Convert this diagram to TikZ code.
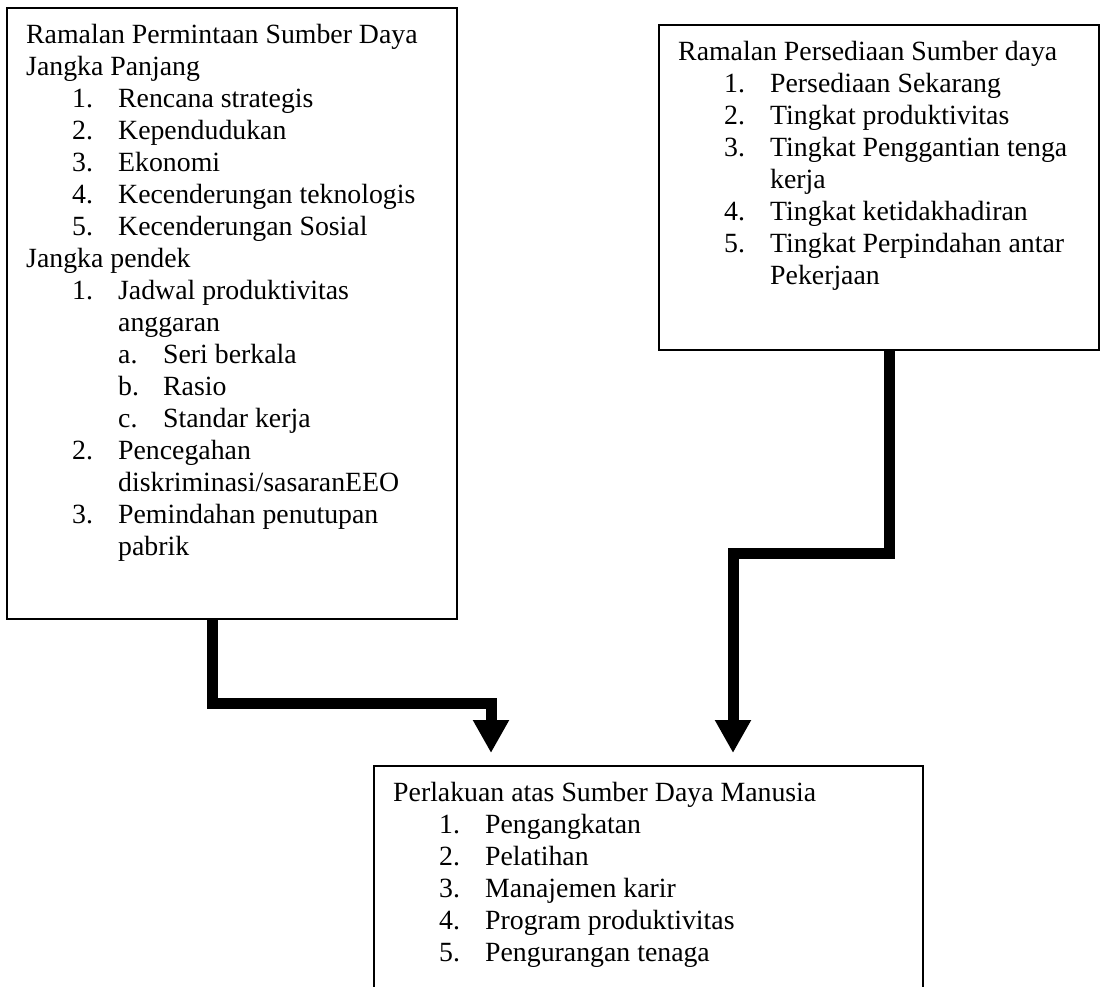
\documentclass[tikz,border=0pt]{standalone}
\usepackage{fontspec}
\setmainfont{Liberation Serif}
\usetikzlibrary{arrows.meta}
\usetikzlibrary{positioning}
\tikzstyle{box} = [rectangle, draw, line width=1.5pt, anchor=north west, inner sep=0pt]
\tikzstyle{txt} = [anchor=north west, inner sep=0pt, align=left, font=\fontsize{27.8}{32}\selectfont]
\tikzstyle{flow} = [line width=11pt, -{Triangle[width=34pt,length=33pt]}]
\newcommand{\lvone}[2]{\hspace*{46pt}\makebox[46pt][l]{#1}#2}
\newcommand{\lvtwo}[2]{\hspace*{92pt}\makebox[45pt][l]{#1}#2}
\newcommand{\lvwrap}[1]{\hspace*{92pt}#1}

\begin{document}
\begin{tikzpicture}[x=1pt, y=-1pt]
	\useasboundingbox (0,0) rectangle (1100,986);
	\clip (0,0) rectangle (1100,986);

	% the three boxes
	\node[box, minimum width=450pt, minimum height=611pt] (Demand) at (6,7) {};
	\node[box, minimum width=440pt, minimum height=325pt] (Supply) at (658,24) {};
	\node[box, minimum width=549pt, minimum height=260pt] (Action) at (373,765) {};

	\node[txt] (Demand-text) at ([xshift=20pt, yshift=-13.6pt]Demand.north west) {\strut Ramalan Permintaan Sumber Daya\\
		Jangka Panjang\\
		\lvone{1.}{Rencana strategis}\\
		\lvone{2.}{Kependudukan}\\
		\lvone{3.}{Ekonomi}\\
		\lvone{4.}{Kecenderungan teknologis}\\
		\lvone{5.}{Kecenderungan Sosial}\\
		Jangka pendek\\
		\lvone{1.}{Jadwal produktivitas}\\
		\lvwrap{anggaran}\\
		\lvtwo{a.}{Seri berkala}\\
		\lvtwo{b.}{Rasio}\\
		\lvtwo{c.}{Standar kerja}\\
		\lvone{2.}{Pencegahan}\\
		\lvwrap{diskriminasi/sasaranEEO}\\
		\lvone{3.}{Pemindahan penutupan}\\
		\lvwrap{pabrik}};

	\node[txt] (Supply-text) at ([xshift=20pt, yshift=-13.6pt]Supply.north west) {\strut Ramalan Persediaan Sumber daya\\
		\lvone{1.}{Persediaan Sekarang}\\
		\lvone{2.}{Tingkat produktivitas}\\
		\lvone{3.}{Tingkat Penggantian tenga}\\
		\lvwrap{kerja}\\
		\lvone{4.}{Tingkat ketidakhadiran}\\
		\lvone{5.}{Tingkat Perpindahan antar}\\
		\lvwrap{Pekerjaan}};

	\node[txt] (Action-text) at ([xshift=20pt, yshift=-13.6pt]Action.north west) {\strut Perlakuan atas Sumber Daya Manusia\\
		\lvone{1.}{Pengangkatan}\\
		\lvone{2.}{Pelatihan}\\
		\lvone{3.}{Manajemen karir}\\
		\lvone{4.}{Program produktivitas}\\
		\lvone{5.}{Pengurangan tenaga}};

	% thick connectors
	\draw[flow] ([xshift=206pt]Demand.south west) -- ++(0,84) -| ([xshift=118pt, yshift=12pt]Action.north west);
	\draw[flow] ([xshift=231pt]Supply.south west) -- ++(0,203) -| ([xshift=360pt, yshift=12pt]Action.north west);

\end{tikzpicture}
\end{document}
